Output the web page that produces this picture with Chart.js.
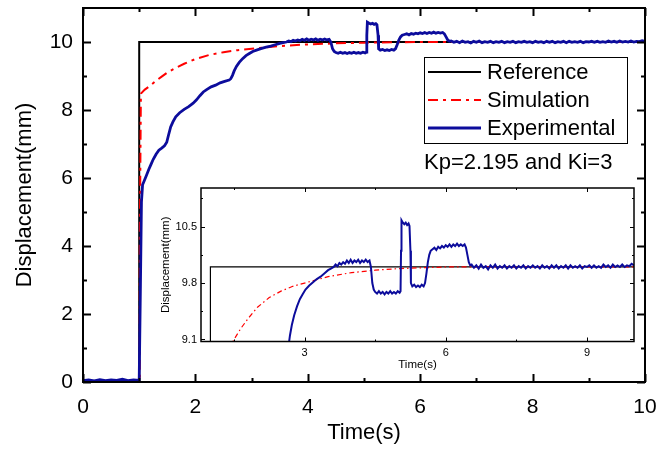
<!DOCTYPE html>
<html>
<head>
<meta charset="utf-8">
<script src="https://cdn.jsdelivr.net/npm/chart.js@4.4.1/dist/chart.umd.min.js"></script>
<style>
  html, body { margin: 0; padding: 0; background: #fff; }
  #wrap { position: relative; width: 660px; height: 452px; }
  #main { position: absolute; left: 0; top: 0; }
  #inset { position: absolute; left: 150px; top: 180px; }
</style>
</head>
<body>
<div id="wrap">
  <canvas id="main" width="660" height="452"></canvas>
  <canvas id="inset" width="490" height="200"></canvas>
</div>
<script>
// ---- data ----
const seriesNames = ['Reference', 'Simulation', 'Experimental'];
const gainText = 'Kp=2.195 and Ki=3';

const refTime = [0, 1, 1, 10];
const refDisp = [0, 0, 10, 10];

const simTime = [0, 1.01, 1.01, 1.03, 1.1, 1.2, 1.3, 1.4, 1.5, 1.65, 1.8, 2.0, 2.25, 2.5, 2.75, 3.0, 3.5, 4.0, 4.5, 5.0, 5.5, 6.0, 7.0, 8.0, 9.0, 10.0];
const simDisp = [0, 0, 4.0, 8.48, 8.6, 8.72, 8.86, 8.98, 9.1, 9.24, 9.36, 9.5, 9.62, 9.7, 9.76, 9.8, 9.88, 9.93, 9.96, 9.98, 9.99, 10, 10, 10, 10, 10];

const expTime = [
  0, 0.1, 0.2, 0.3, 0.4, 0.5, 0.6, 0.7, 0.8, 0.9, 1.0,
  1.02, 1.04, 1.06, 1.09, 1.13, 1.17, 1.21, 1.25, 1.3, 1.35, 1.4, 1.45, 1.49, 1.52, 1.56, 1.6, 1.65, 1.72, 1.8, 1.88, 1.96,
  2.02, 2.08, 2.14, 2.2, 2.28, 2.36, 2.44, 2.52, 2.6, 2.63, 2.66, 2.69, 2.73, 2.78, 2.84, 2.9, 2.96,
  3.02, 3.1, 3.18, 3.26, 3.34, 3.42, 3.5, 3.56, 3.62,
  3.66, 3.70, 3.74, 3.78, 3.82, 3.86, 3.90, 3.94, 3.98, 4.02, 4.06, 4.10, 4.14, 4.18, 4.22, 4.26, 4.30, 4.34, 4.38, 4.41, 4.44, 4.47,
  4.50, 4.54, 4.58, 4.62, 4.66, 4.70, 4.74, 4.78, 4.82, 4.86, 4.90, 4.94, 4.98, 5.02, 5.04,
  5.05, 5.06, 5.09, 5.12, 5.15, 5.18, 5.21, 5.23, 5.25, 5.26, 5.29, 5.33, 5.37, 5.41, 5.45, 5.49, 5.53, 5.56, 5.59, 5.62, 5.65, 5.68,
  5.72, 5.76, 5.80, 5.84, 5.88, 5.92, 5.96, 6.00, 6.04, 6.08, 6.12, 6.16, 6.20, 6.24, 6.28, 6.32, 6.36, 6.40, 6.43, 6.46, 6.49, 6.52,
  6.55, 6.6, 6.65, 6.7, 6.75, 6.8, 6.85, 6.9, 6.95, 7.0, 7.05, 7.1, 7.15, 7.2, 7.25, 7.3, 7.35, 7.4, 7.45, 7.5,
  7.55, 7.6, 7.65, 7.7, 7.75, 7.8, 7.85, 7.9, 7.95, 8.0, 8.05, 8.1, 8.15, 8.2, 8.25, 8.3, 8.35, 8.4, 8.45, 8.5,
  8.55, 8.6, 8.65, 8.7, 8.75, 8.8, 8.85, 8.9, 8.95, 9.0, 9.05, 9.1, 9.15, 9.2, 9.25, 9.3, 9.35, 9.4, 9.45, 9.5,
  9.55, 9.6, 9.65, 9.7, 9.75, 9.8, 9.85, 9.9, 9.95, 10.0
];
const expDisp = [
  0.04, 0.06, 0.03, 0.07, 0.04, 0.06, 0.05, 0.08, 0.04, 0.06, 0.05,
  2.6, 5.3, 5.8, 5.92, 6.08, 6.25, 6.4, 6.55, 6.7, 6.82, 6.88, 6.95, 7.05, 7.25, 7.5, 7.65, 7.8, 7.92, 8.02, 8.1, 8.2,
  8.3, 8.42, 8.53, 8.6, 8.68, 8.73, 8.8, 8.84, 8.88, 8.92, 9.02, 9.15, 9.28, 9.4, 9.51, 9.6, 9.66,
  9.72, 9.77, 9.81, 9.85, 9.88, 9.92, 9.96, 9.98, 10.0,
  10.03, 10.01, 10.05, 10.03, 10.06, 10.04, 10.08, 10.05, 10.09, 10.05, 10.08, 10.06, 10.09, 10.05, 10.08, 10.06, 10.09, 10.06, 10.08, 10.0, 9.8, 9.72,
  9.69, 9.67, 9.70, 9.67, 9.69, 9.66, 9.69, 9.67, 9.70, 9.67, 9.69, 9.67, 9.70, 9.68, 9.7,
  10.2, 10.58, 10.55, 10.53, 10.55, 10.52, 10.54, 10.51, 10.2, 9.8, 9.76, 9.78, 9.75, 9.77, 9.75, 9.78, 9.76, 9.8, 9.92, 10.06, 10.15, 10.2,
  10.22, 10.24, 10.21, 10.25, 10.23, 10.26, 10.24, 10.27, 10.25, 10.28, 10.25, 10.28, 10.26, 10.29, 10.26, 10.28, 10.26, 10.28, 10.24, 10.15, 10.06, 10.02,
  10.03, 9.99, 10.02, 9.98, 10.03, 9.99, 10.01, 9.97, 10.02, 9.99, 10.03, 9.98, 10.01, 9.99, 10.02, 9.98, 10.01, 9.99, 10.02, 9.98,
  10.01, 9.99, 10.02, 9.98, 10.01, 9.99, 10.02, 9.99, 10.01, 9.98, 10.02, 9.99, 10.01, 9.98, 10.02, 9.99, 10.02, 9.98, 10.01, 9.99,
  10.02, 9.98, 10.02, 9.99, 10.01, 9.99, 10.02, 9.98, 10.01, 10.0, 10.02, 9.99, 10.02, 9.99, 10.01, 9.99, 10.03, 10.0, 10.02, 9.99,
  10.03, 10.0, 10.02, 10.0, 10.03, 10.0, 10.02, 10.01, 10.04, 10.02
];

// main axes
const mainXMajor = [0, 2, 4, 6, 8, 10];
const mainXMinor = [1, 3, 5, 7, 9];
const mainYMajor = [0, 2, 4, 6, 8, 10];
const mainYMinor = [1, 3, 5, 7, 9];
// inset axes
const insetXMajor = [3, 6, 9];
const insetXMinor = [1.5, 4.5, 7.5];
const insetYMajor = [9.1, 9.8, 10.5];
const insetYMinor = [9.45, 10.15, 10.85];

const FONT = '"Liberation Sans", Arial, sans-serif';
const BLUE = '#0c0c9c';
const RED = '#ff0000';

const toPoints = (xs, ys) => xs.map((x, i) => ({ x, y: ys[i] }));

// Frame + inward tick marks (Origin style)
const frameTicksPlugin = {
    id: 'frameTicks',
    afterDatasetsDraw(chart, args, opts) {
        const { ctx, chartArea: a, scales } = chart;
        ctx.save();
        ctx.strokeStyle = '#000';
        ctx.lineWidth = opts.tickWidth;
        const xt = (vals, len) => vals.forEach(v => {
            const px = Math.round(scales.x.getPixelForValue(v)) + 0.5;
            ctx.beginPath();
            ctx.moveTo(px, a.bottom); ctx.lineTo(px, a.bottom - len);
            ctx.moveTo(px, a.top); ctx.lineTo(px, a.top + len);
            ctx.stroke();
        });
        const yt = (vals, len) => vals.forEach(v => {
            const py = Math.round(scales.y.getPixelForValue(v)) + 0.5;
            ctx.beginPath();
            ctx.moveTo(a.left, py); ctx.lineTo(a.left + len, py);
            ctx.moveTo(a.right, py); ctx.lineTo(a.right - len, py);
            ctx.stroke();
        });
        xt(opts.xMajor, opts.majorLen); xt(opts.xMinor, opts.minorLen);
        yt(opts.yMajor, opts.majorLen); yt(opts.yMinor, opts.minorLen);
        ctx.lineWidth = opts.frameWidth;
        ctx.strokeRect(a.left, a.top, a.right - a.left, a.bottom - a.top);
        ctx.restore();
    }
};

// Boxed legend inside the main plot
const boxLegendPlugin = {
    id: 'boxLegend',
    afterDraw(chart, args, opts) {
        if (!opts.show) return;
        const ctx = chart.ctx;
        ctx.save();
        ctx.strokeStyle = '#000';
        ctx.lineWidth = 1;
        ctx.strokeRect(424.5, 57.5, 203, 86);
        ctx.font = `22px ${FONT}`;
        ctx.textBaseline = 'middle';
        ctx.fillStyle = '#000';
        chart.data.datasets.forEach((ds, i) => {
            const y = 72 + i * 28;
            ctx.beginPath();
            ctx.strokeStyle = ds.borderColor;
            ctx.lineWidth = ds.borderWidth;
            ctx.setLineDash(ds.legendDash || []);
            ctx.moveTo(428, y); ctx.lineTo(481, y);
            ctx.stroke();
            ctx.setLineDash([]);
            ctx.fillText(ds.label, 487, y + 1);
        });
        ctx.fillText(opts.note, 424, 163);
        ctx.restore();
    }
};

function makeChart(canvasId, cfg) {
    const datasets = [
        { label: seriesNames[0], data: toPoints(refTime, refDisp), borderColor: '#000', borderWidth: cfg.refWidth, order: 3 },
        { label: seriesNames[1], data: toPoints(simTime, simDisp), borderColor: RED, borderWidth: cfg.simWidth, borderDash: cfg.simDash, legendDash: [10, 5, 3, 5], order: 2 },
        { label: seriesNames[2], data: toPoints(expTime, expDisp), borderColor: BLUE, borderWidth: cfg.expWidth, order: 1 },
    ].map(ds => Object.assign(ds, { showLine: true, pointRadius: 0, tension: 0, fill: false, backgroundColor: ds.borderColor }));

    // fixed-size axis boxes; drop Chart.js' automatic edge-label padding
    const axis = (min, max, major, fit, title, tickPad, titlePad) => ({
        type: 'linear', min, max,
        afterBuildTicks: s => { s.ticks = major.map(v => ({ value: v })); },
        afterFit: s => {
            fit(s);
            s.paddingTop = 0; s.paddingBottom = 0; s.paddingLeft = 0; s.paddingRight = 0;
        },
        grid: { display: false, drawTicks: false },
        border: { display: false },
        ticks: { color: '#000', font: { family: FONT, size: cfg.tickSize }, padding: tickPad, maxRotation: 0, autoSkip: false },
        title: { display: true, text: title, color: '#000', font: { family: FONT, size: cfg.titleSize }, padding: titlePad },
    });

    return new Chart(document.getElementById(canvasId), {
        type: 'scatter',
        data: { datasets },
        plugins: [frameTicksPlugin, boxLegendPlugin],
        options: {
            responsive: false,
            animation: false,
            devicePixelRatio: 1,
            layout: { padding: cfg.padding },
            plugins: {
                legend: { display: false },
                tooltip: { enabled: false },
                frameTicks: {
                    xMajor: cfg.xMajor, xMinor: cfg.xMinor, yMajor: cfg.yMajor, yMinor: cfg.yMinor,
                    majorLen: cfg.majorLen, minorLen: cfg.minorLen, tickWidth: cfg.tickWidth, frameWidth: cfg.frameWidth,
                },
                boxLegend: { show: cfg.legend, note: gainText },
            },
            scales: {
                x: axis(cfg.xMin, cfg.xMax, cfg.xMajor, s => { s.height = cfg.xHeight; }, 'Time(s)', cfg.xTickPad, cfg.xTitlePad),
                y: axis(cfg.yMin, cfg.yMax, cfg.yMajor, s => { s.width = cfg.yWidth; }, 'Displacement(mm)', cfg.yTickPad, cfg.yTitlePad),
            }
        }
    });
}

makeChart('main', {
    xMin: 0, xMax: 10, yMin: 0, yMax: 11,
    xMajor: mainXMajor, xMinor: mainXMinor, yMajor: mainYMajor, yMinor: mainYMinor,
    padding: { top: 8, right: 15, left: 0, bottom: 0 },
    xHeight: 70, yWidth: 83,
    tickSize: 21, titleSize: 22,
    xTickPad: 13, yTickPad: 10, xTitlePad: { top: 4, bottom: 6 }, yTitlePad: { top: 12, bottom: 4 },
    refWidth: 2, simWidth: 2, simDash: [10, 5, 3, 5], expWidth: 2.8,
    majorLen: 8, minorLen: 4, tickWidth: 2, frameWidth: 2,
    legend: true,
});

makeChart('inset', {
    xMin: 0.8, xMax: 10, yMin: 9.075, yMax: 10.98,
    xMajor: insetXMajor, xMinor: insetXMinor, yMajor: insetYMajor, yMinor: insetYMinor,
    padding: { top: 8, right: 6, left: 0, bottom: 0 },
    xHeight: 38.5, yWidth: 51,
    tickSize: 11, titleSize: 11.5,
    xTickPad: 5, yTickPad: 4, xTitlePad: { top: 0, bottom: 8 }, yTitlePad: { top: 9, bottom: 2 },
    refWidth: 1.2, simWidth: 1.2, simDash: [5, 3, 1.5, 3], expWidth: 2,
    majorLen: 4, minorLen: 2, tickWidth: 1, frameWidth: 1.5,
    legend: false,
});
</script>
</body>
</html>
